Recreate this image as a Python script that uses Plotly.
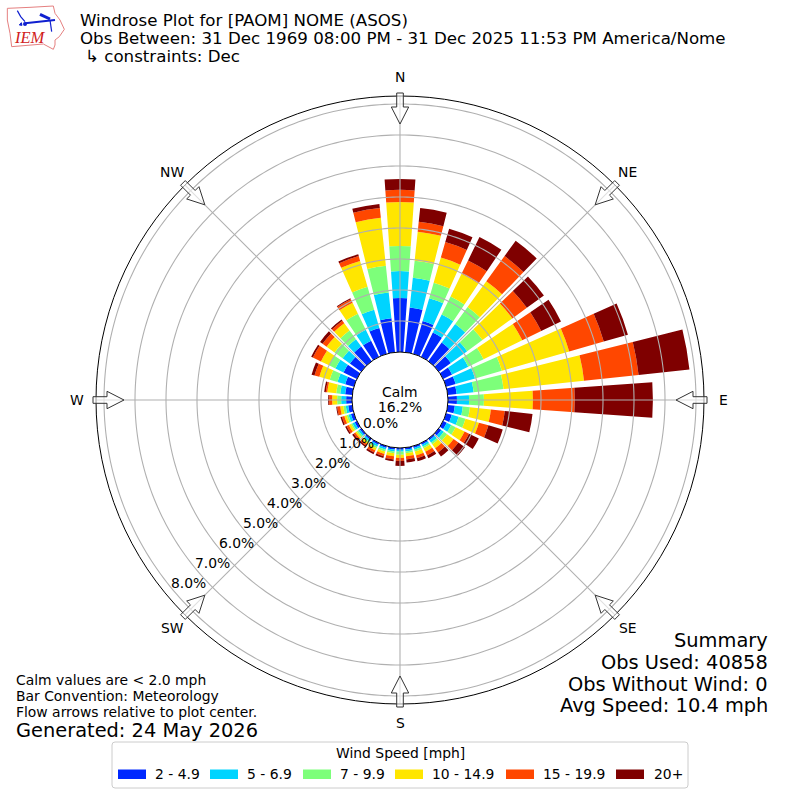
import math
import numpy as np
import plotly.graph_objects as go

directions = list(range(0, 360, 10))
speed_labels = ["2 - 4.9", "5 - 6.9", "7 - 9.9", "10 - 14.9", "15 - 19.9", "20+"]
speed_colors = ["#0028FF", "#00D4FF", "#7DFF7A", "#FFE600", "#FF4700", "#7F0000"]

s_2_5 = [1.74,1.45,1.10,.87,.74,.48,.32,.32,.29,.29,.23,.19,.13,.10,.06,.06,.06,.06,.06,.06,.06,.06,.06,.06,.08,.10,.13,.19,.23,.29,.48,.45,.58,.58,.87,1.10]
s_5_7 = [.87,.97,.77,.65,.74,.65,.58,.65,.55,.39,.26,.23,.16,.10,.10,.06,.06,.06,.06,.06,.06,.06,.06,.06,.08,.08,.08,.16,.16,.26,.29,.29,.29,.39,.61,.84]
s_7_10 = [.81,.55,.52,.65,.68,.61,.55,.90,.97,.48,.23,.23,.16,.13,.06,.06,.06,.06,.10,.06,.06,.06,.05,.06,.05,.06,.08,.13,.13,.26,.23,.32,.35,.58,.77,.87]
s_10_15 = [1.42,.94,.84,.81,1.03,1.19,1.39,2.26,2.61,1.58,.68,.45,.32,.26,.16,.13,.13,.10,.10,.10,.08,.08,.06,.06,.08,.08,.10,.16,.29,.35,.29,.32,.29,.39,.87,1.55]
s_15_20 = [.39,.32,.52,.48,1.00,.58,.68,1.16,1.77,1.35,.45,.32,.16,.19,.16,.13,.10,.10,.10,.10,.08,.08,.06,.06,.08,.08,.10,.10,.05,.16,.29,.16,.10,.13,.16,.32]
s_20p = [.35,.45,.45,.84,.61,.68,.71,.81,1.65,2.52,.90,.48,.35,.26,.16,.10,.10,.10,.16,.06,.06,.06,.05,.06,.05,.05,.03,.03,.05,.10,.06,.10,.05,.03,.06,.13]
series = [s_2_5, s_5_7, s_7_10, s_10_15, s_15_20, s_20p]

pct_ticks = [0, 1, 2, 3, 4, 5, 6, 7, 8]
compass = ["N", "NE", "E", "SE", "S", "SW", "W", "NW"]
compass_angles = [0, 45, 90, 135, 180, 225, 270, 315]

FONT = "DejaVu Sans"
CX, CY, R_OUT, R_HOLE = 400, 400, 304, 48
RMAX = (R_OUT - R_HOLE) / 31
GRID = "#B0B0B0"

def X(x): return x / 800
def Y(y): return 1 - y / 800

fig = go.Figure()
for name, vals, col in zip(speed_labels, series, speed_colors):
    fig.add_trace(go.Barpolar(r=vals, theta=directions, width=8, name=name,
                              marker=dict(color=col, line=dict(width=0)),
                              showlegend=False, hoverinfo="name+r+theta"))

ring_theta = np.arange(0, 360.5, 1.0)
for t in pct_ticks[1:]:
    fig.add_trace(go.Scatterpolar(r=[t] * len(ring_theta), theta=ring_theta, mode="lines",
                                  line=dict(color=GRID, width=1.1), hoverinfo="skip", showlegend=False))
for a in compass_angles:
    fig.add_trace(go.Scatterpolar(r=[0, RMAX], theta=[a, a], mode="lines",
                                  line=dict(color=GRID, width=1.1), hoverinfo="skip", showlegend=False))

shapes = []
# compass arrows
arrow = [(307, 3.3), (293, 3.3), (293, 8.7), (276, 0), (293, -8.7), (293, -3.3), (307, -3.3)]
for a in compass_angles:
    ra = math.radians(a)
    pts = []
    for r, w in arrow:
        x = CX + r * math.sin(ra) + w * math.cos(ra)
        y = CY - r * math.cos(ra) + w * math.sin(ra)
        pts.append((x, y))
    d = "M " + " L ".join(f"{X(x):.5f},{Y(y):.5f}" for x, y in pts) + " Z"
    shapes.append(dict(type="path", xref="paper", yref="paper", path=d,
                       line=dict(color="#333333", width=1), fillcolor="rgba(255,255,255,0.6)"))

# logo
def poly(points, close=True, **kw):
    d = "M " + " L ".join(f"{X(x / 3):.5f},{Y(y / 3):.5f}" for x, y in points) + (" Z" if close else "")
    shapes.append(dict(type="path", xref="paper", yref="paper", path=d, **kw))

poly([(22,25),(90,22),(160,18),(165,40),(180,60),(193,88),(178,110),(165,120),(165,135),(160,148),(130,132),(35,140),(30,100),(22,60)],
     line=dict(color="#E58080", width=1), fillcolor="rgba(0,0,0,0)")
poly([(75,70),(165,60)], close=False, line=dict(color="#1020D0", width=2))
poly([(52,32),(62,50),(75,65)], close=False, line=dict(color="#1020D0", width=1.2))
poly([(120,43),(150,57)], close=False, line=dict(color="#1020D0", width=3))
poly([(150,60),(155,95)], close=False, line=dict(color="#1020D0", width=1.2))
poly([(58,75),(64,68),(66,76)], line=dict(color="#1020D0", width=1), fillcolor="#1020D0")
shapes.append(dict(type="circle", xref="paper", yref="paper", x0=X(23), x1=X(27), y0=Y(26), y1=Y(22),
                   line=dict(width=0), fillcolor="#1020D0"))

# legend box with rounded corners
def rounded(x0, y0, x1, y1, c):
    return (f"M {X(x0 + c)},{Y(y0)} L {X(x1 - c)},{Y(y0)} Q {X(x1)},{Y(y0)} {X(x1)},{Y(y0 + c)} "
            f"L {X(x1)},{Y(y1 - c)} Q {X(x1)},{Y(y1)} {X(x1 - c)},{Y(y1)} "
            f"L {X(x0 + c)},{Y(y1)} Q {X(x0)},{Y(y1)} {X(x0)},{Y(y1 - c)} "
            f"L {X(x0)},{Y(y0 + c)} Q {X(x0)},{Y(y0)} {X(x0 + c)},{Y(y0)} Z")
shapes.append(dict(type="path", xref="paper", yref="paper", path=rounded(112, 742, 688, 788, 3),
                   line=dict(color="#CCCCCC", width=1), fillcolor="white"))
swatch_x = [118, 210, 303, 395, 506, 616]
text_x = [154, 246, 339, 431, 542, 653]
for sx, col in zip(swatch_x, speed_colors):
    shapes.append(dict(type="rect", xref="paper", yref="paper", x0=X(sx), x1=X(sx + 28), y0=Y(779), y1=Y(769.5),
                       line=dict(width=0), fillcolor=col))

ann = []
def text(x, y, s, size=13.9, anchor="left", color="black", family=FONT, **kw):
    ann.append(dict(x=X(x), y=Y(y), xref="paper", yref="paper", text=s, showarrow=False,
                    xanchor=anchor, yanchor="middle", align=anchor, font=dict(family=family, size=size, color=color),
                    borderpad=0, **kw))

text(79, 21, "Windrose Plot for [PAOM] NOME (ASOS)", 16.67)
text(79, 39, "Obs Between: 31 Dec 1969 08:00 PM - 31 Dec 2025 11:53 PM America/Nome", 16.67)
text(84, 56, "↳ constraints: Dec", 16.67)
text(30, 38, "<i>IEM</i>", 16.5, color="#D02020", family="Liberation Serif", anchor="center")

for name, a in zip(compass, compass_angles):
    ra = math.radians(a)
    rr = 323 if a % 90 == 0 else 322
    text(CX + rr * math.sin(ra), CY - rr * math.cos(ra), name, anchor="center")

for k in pct_ticks:
    text(380 - 23.9 * k, 423 + 20 * k, f"{k}.0%", anchor="center")

text(400, 392, "Calm", anchor="center")
text(400, 407, "16.2%", anchor="center")

for y, s in zip([640, 662, 684, 705], ["Summary", "Obs Used: 40858", "Obs Without Wind: 0", "Avg Speed: 10.4 mph"]):
    text(769, y, s, 19.4, anchor="right")
for y, s in zip([680, 696, 712], ["Calm values are &lt; 2.0 mph", "Bar Convention: Meteorology", "Flow arrows relative to plot center."]):
    text(15, y, s)
text(15, 730, "Generated: 24 May 2026", 19.4)

text(400, 753, "Wind Speed [mph]", anchor="center")
for tx, s in zip(text_x, speed_labels):
    text(tx, 774, s)

dom = [(CX - R_OUT) / 800, (CX + R_OUT) / 800]
fig.update_layout(
    width=800, height=800, autosize=False, margin=dict(l=0, r=0, t=0, b=0),
    paper_bgcolor="white", plot_bgcolor="white", showlegend=False,
    polar=dict(
        domain=dict(x=dom, y=dom), hole=R_HOLE / R_OUT, bgcolor="white",
        barmode="stack", sector=[0, 360],
        radialaxis=dict(range=[0, RMAX], showgrid=False, showline=False, showticklabels=False, ticks=""),
        angularaxis=dict(direction="clockwise", rotation=90, showgrid=False, showticklabels=False, ticks="",
                         showline=True, linecolor="black", linewidth=1, layer="above traces"),
    ),
    shapes=shapes, annotations=ann,
)
fig.write_html("out.html", config={"displayModeBar": False},
               post_script="document.body.style.margin='0';document.body.style.overflow='hidden';")
